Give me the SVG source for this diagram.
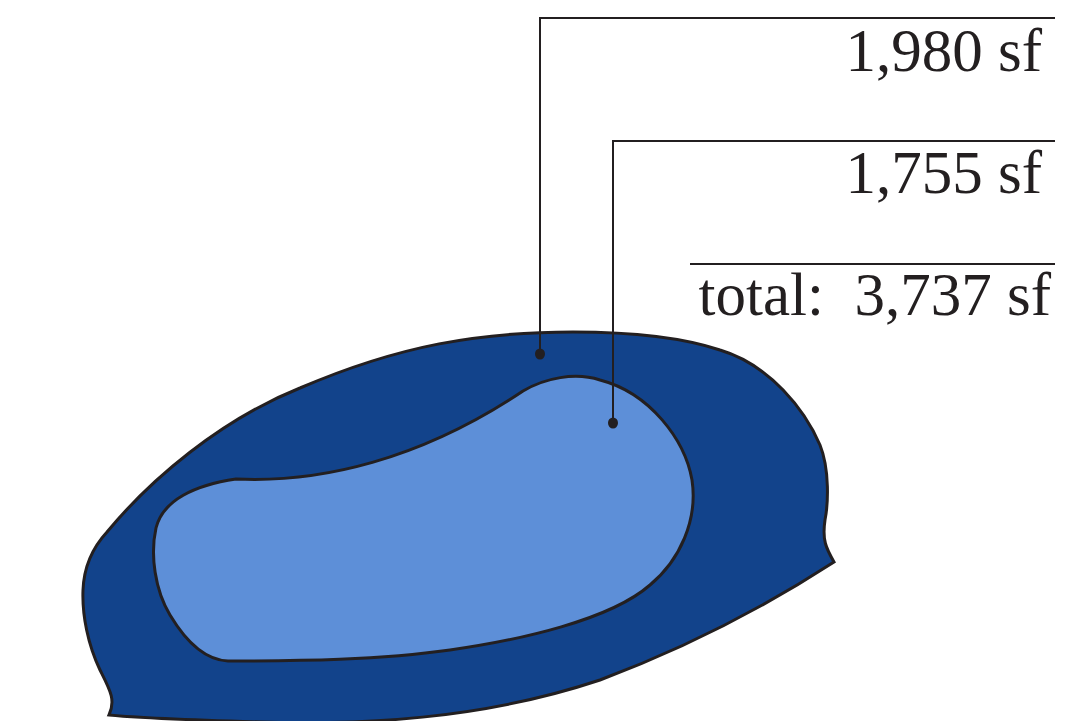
<svg xmlns="http://www.w3.org/2000/svg" width="1072" height="721" viewBox="0 0 1072 721">
<style>
.ln{fill:none;stroke:#231f20;stroke-width:2}
.sh{stroke:#231f20;stroke-width:3;stroke-linejoin:miter}
.lbl{font-family:"Liberation Serif","Times New Roman",serif;font-size:61px;fill:#231f20;text-anchor:end}
.dot{fill:#231f20}
</style>
<rect width="1072" height="721" fill="#ffffff"/>
<g id="outer">
<path class="sh" fill="#12438b" d="M109,715 C116,700 110,690 100,670 C88,645 82,615 83,590 C84,565 95,545 107,532 C150,480 220,420 300,388 C400,345 480,332 573,332 C640,332 690,340 720,350 C770,365 805,410 820,445 C830,470 828,505 825,520 C822,540 826,548 834,562 C760,610 680,650 600,680 C480,720 360,725 260,722 C190,720 140,718 109,715 Z"/>
</g>
<g id="inner">
<path class="sh" fill="#5d8fd8" d="M523,391 C545,378 575,372 600,380 C650,393 685,440 692,480 C698,520 680,560 650,585 C610,620 520,640 450,650 C380,660 300,661 228,661 C205,660 185,640 170,615 C155,590 150,555 156,528 C163,500 195,485 236,479 C320,483 420,460 523,391 Z"/>
</g>
<g id="connectors">
<polyline class="ln" points="1055,18 540,18 540,354"/>
<polyline class="ln" points="1055,141 613,141 613,423"/>
<line class="ln" x1="690" y1="264" x2="1055" y2="264"/>
<ellipse class="dot" cx="540" cy="354" rx="5" ry="5.5"/>
<ellipse class="dot" cx="613" cy="423" rx="5" ry="5.5"/>
</g>
<g id="labels">
<text class="lbl" x="1042" y="71">1,980 sf</text>
<text class="lbl" x="1042" y="193">1,755 sf</text>
<text class="lbl" x="1051" y="315" xml:space="preserve">total:  3,737 sf</text>
</g>
</svg>
